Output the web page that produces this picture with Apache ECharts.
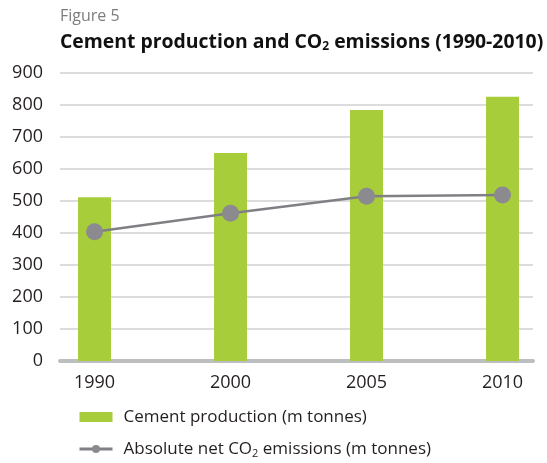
<!DOCTYPE html>
<html>
<head>
<meta charset="utf-8">
<script src="https://cdn.jsdelivr.net/npm/echarts@6/dist/echarts.min.js"></script>
<style>
  html, body { margin: 0; padding: 0; background: #fff; }
  #chart { width: 547px; height: 463px; }
</style>
</head>
<body>
<div id="chart"></div>
<script>
const years = ['1990', '2000', '2005', '2010']
const cementProduction = [512, 650, 784, 826]
const co2Emissions = [404, 462, 515, 519]
const yTicks = [0, 100, 200, 300, 400, 500, 600, 700, 800, 900]

const font = '"Open Sans", sans-serif'
const chart = echarts.init(document.getElementById('chart'))

chart.setOption({
  animation: false,
  textStyle: { fontFamily: font },
  title: [
    {
      text: 'Figure 5',
      left: 60,
      top: 8,
      padding: 0,
      textStyle: { fontSize: 16, fontWeight: 'normal', color: '#7d7d80', fontFamily: font }
    },
    {
      text: 'Cement production and CO{sub|2} emissions (1990-2010)',
      left: 60,
      top: 32,
      padding: 0,
      textStyle: {
        fontSize: 19.4, fontWeight: 'bold', color: '#111', fontFamily: font,
        rich: {
          sub: { fontSize: 12, fontWeight: 'bold', color: '#111', verticalAlign: 'bottom', padding: [9, 0, 0, 0] }
        }
      }
    }
  ],
  legend: {
    orient: 'vertical',
    left: 78,
    top: 406,
    padding: 0,
    itemWidth: 33,
    itemHeight: 10,
    itemGap: 10,
    data: [
      { name: 'cement', icon: 'rect' },
      { name: 'co2', lineStyle: { width: 3 } }
    ],
    formatter(name) {
      if (name === 'cement') return 'Cement production (m tonnes)'
      return 'Absolute net CO{sub|2} emissions (m tonnes)'
    },
    textStyle: {
      fontSize: 17,
      color: '#231f20',
      padding: [0, 0, 0, 6],
      lineHeight: 22,
      rich: {
        sub: { fontSize: 11, color: '#231f20', padding: [10, 0, 0, 0] }
      }
    }
  },
  grid: { left: 60, right: 14, top: 73, bottom: 102 },
  xAxis: {
    type: 'value',
    min: -0.254,
    max: 3.224,
    splitLine: { show: false },
    axisTick: { show: false },
    axisLine: { show: true, lineStyle: { color: '#bdbec0', width: 4 } },
    axisLabel: {
      customValues: [0, 1, 2, 3],
      formatter: v => years[Math.round(v)],
      fontSize: 18,
      color: '#231f20',
      margin: 13
    }
  },
  yAxis: {
    type: 'value',
    min: 0,
    max: 900,
    interval: 100,
    axisLine: { show: false },
    axisTick: { show: false },
    axisLabel: {
      fontSize: 18,
      color: '#231f20',
      margin: 17,
      formatter: v => yTicks.includes(v) ? String(v) : ''
    },
    splitLine: { lineStyle: { color: '#d0d0d2', width: 1.5 } }
  },
  series: [
    {
      name: 'cement',
      type: 'bar',
      barWidth: 33,
      itemStyle: { color: '#a7cd3a' },
      data: cementProduction.map((v, i) => [i, v]),
      z: 2
    },
    {
      name: 'co2',
      type: 'line',
      symbol: 'circle',
      symbolSize: 17,
      itemStyle: { color: '#8b8b8f' },
      lineStyle: { color: '#808084', width: 2.5 },
      data: co2Emissions.map((v, i) => [i, v]),
      z: 3
    }
  ]
})
</script>
</body>
</html>
